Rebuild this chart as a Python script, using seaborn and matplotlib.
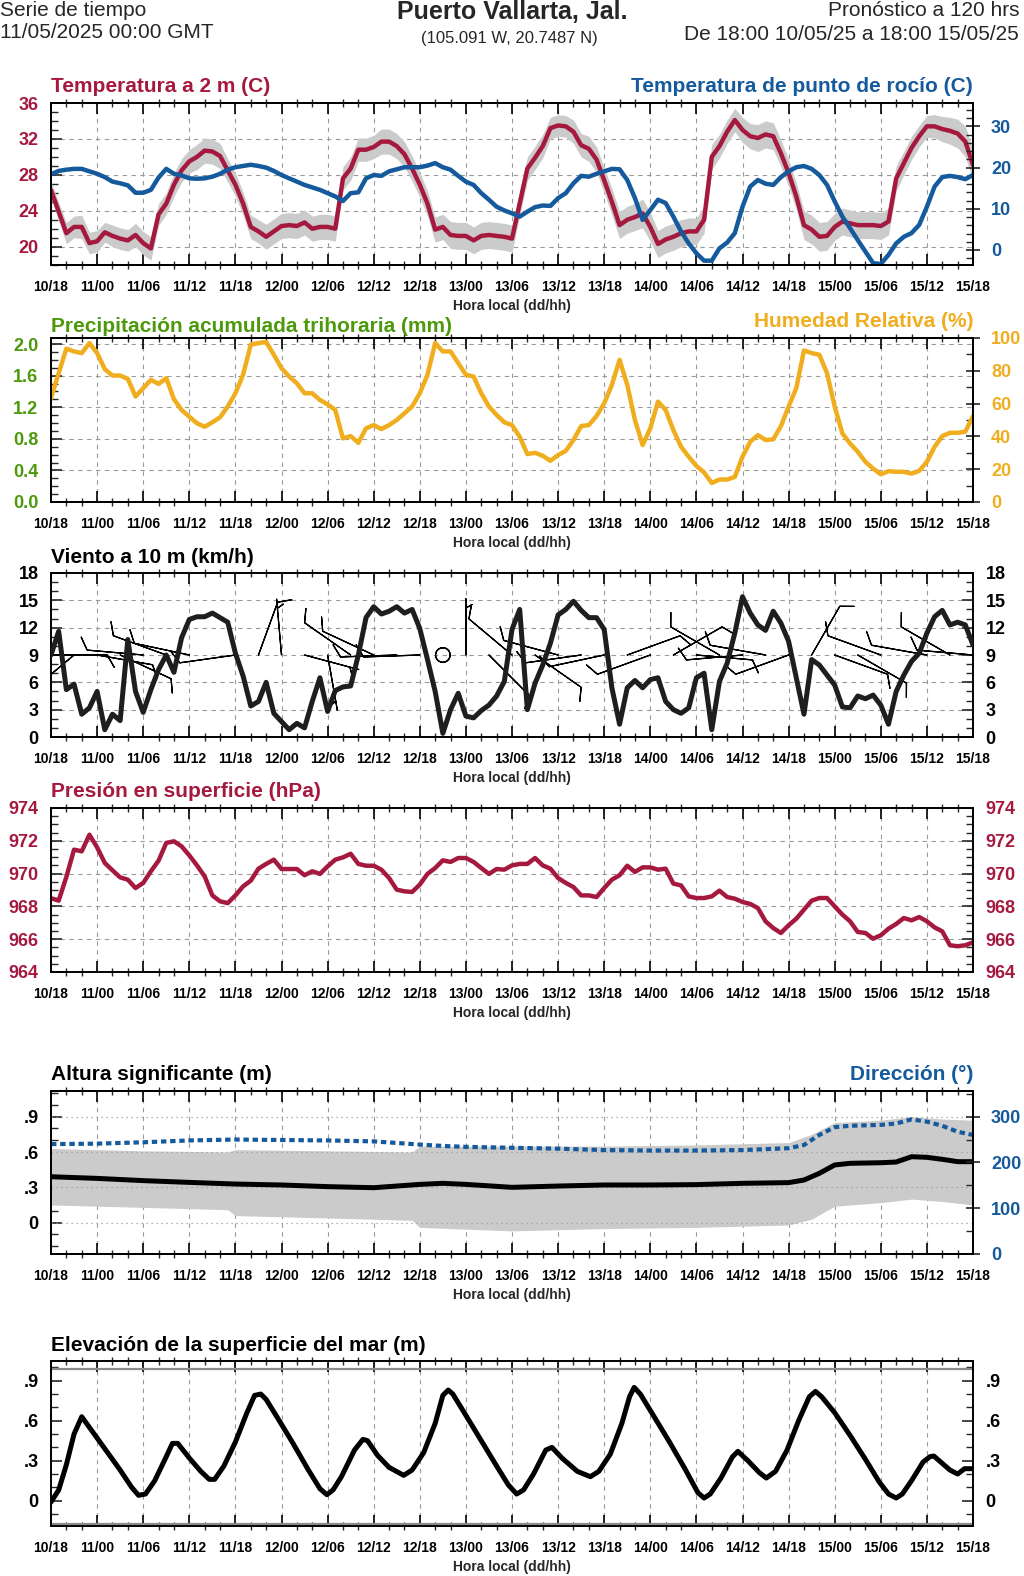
import numpy as np
import pandas as pd
import matplotlib
matplotlib.use('Agg')
import matplotlib.pyplot as plt
import seaborn as sns
from matplotlib.ticker import MultipleLocator

# ---------------- data (hours since 10/05 18:00 local) ----------------
hours = list(range(121))
xtick_labels = ['10/18', '11/00', '11/06', '11/12', '11/18', '12/00', '12/06',
                '12/12', '12/18', '13/00', '13/06', '13/12', '13/18', '14/00',
                '14/06', '14/12', '14/18', '15/00', '15/06', '15/12', '15/18']

# temperatura a 2 m (C)
temp = [26.3, 23.9, 21.5, 22.2, 22.2, 20.4, 20.6, 21.6, 21.2, 20.9,
        20.7, 21.3, 20.4, 19.8, 23.6, 24.8, 26.9, 28.5, 29.5, 30.0,
        30.7, 30.6, 30.1, 28.5, 26.9, 24.8, 22.2, 21.7, 21.1, 21.7,
        22.3, 22.4, 22.3, 22.7, 22.0, 22.2, 22.2, 22.0, 27.6, 28.7,
        30.8, 30.8, 31.1, 31.7, 31.7, 31.2, 30.3, 28.7, 26.9, 24.8,
        21.9, 22.2, 21.3, 21.2, 21.2, 20.7, 21.2, 21.3, 21.2, 21.1,
        20.9, 24.8, 28.7, 29.9, 31.2, 33.2, 33.5, 33.4, 32.8, 31.3,
        30.9, 29.7, 27.4, 25.0, 22.4, 23.0, 23.3, 23.7, 22.2, 20.3,
        20.8, 21.1, 21.5, 21.7, 21.7, 23.0, 30.0, 31.2, 32.8, 34.1,
        33.0, 32.3, 32.1, 32.5, 32.3, 30.4, 28.2, 25.6, 22.4, 21.9,
        21.1, 21.2, 22.2, 22.8, 22.6, 22.4, 22.4, 22.4, 22.3, 22.8,
        27.6, 29.3, 31.0, 32.3, 33.4, 33.4, 33.1, 32.9, 32.6, 31.7,
        29.1]
# half width of the ensemble band around temp
temp_spread = [0.9, 1.0,
               1.2, 1.2, 1.3, 1.2, 1.2, 1.1, 1.2, 1.2, 1.2, 1.3, 1.3, 1.3,
               1.2, 1.2, 1.3, 1.3, 1.3, 1.4, 1.4, 1.4, 1.4, 1.3, 1.3,
               1.3, 1.3, 1.3, 1.4, 1.4, 1.4, 1.4, 1.4, 1.4, 1.4, 1.4, 1.4, 1.4,
               1.3, 1.3, 1.3, 1.3, 1.3, 1.4, 1.4, 1.4, 1.4, 1.4, 1.4, 1.4,
               1.4, 1.4, 1.5, 1.5, 1.5, 1.5, 1.5, 1.5, 1.5, 1.5, 1.5,
               1.4, 1.3, 1.3, 1.3, 1.2, 1.2, 1.2, 1.3, 1.3, 1.4, 1.4, 1.4, 1.5,
               1.5, 1.5, 1.5, 1.6, 1.6, 1.5, 1.5, 1.5, 1.5, 1.5, 1.5, 1.5,
               1.4, 1.3, 1.3, 1.3, 1.4, 1.4, 1.5, 1.5, 1.5, 1.5, 1.5, 1.5,
               1.6, 1.6, 1.6, 1.6, 1.5, 1.5, 1.5, 1.5, 1.5, 1.5, 1.5, 1.5,
               1.4, 1.3, 1.3, 1.2, 1.2, 1.3, 1.4, 1.5, 1.6, 1.7, 1.8]

# temperatura de punto de rocio (C)
dew = [18.4, 19.2, 19.5, 19.7, 19.7, 19.1, 18.5, 17.7, 16.6, 16.2,
       15.7, 13.9, 13.9, 14.6, 17.6, 19.7, 18.5, 18.1, 17.4, 17.3,
       17.4, 17.8, 18.5, 19.5, 20.1, 20.4, 20.7, 20.4, 20.0, 19.2,
       18.2, 17.4, 16.6, 15.8, 15.2, 14.6, 13.8, 13.0, 11.9, 13.8,
       14.0, 17.4, 18.2, 18.0, 19.1, 19.6, 20.1, 20.1, 20.1, 20.5,
       21.1, 20.1, 19.5, 18.0, 16.6, 15.8, 13.8, 12.2, 10.5, 9.6,
       8.9, 8.1, 9.3, 10.4, 10.8, 10.7, 12.6, 13.8, 16.2, 18.0,
       17.8, 18.5, 19.1, 19.7, 19.6, 17.0, 12.6, 7.3, 9.7, 12.2,
       11.4, 8.1, 4.5, 1.6, -0.8, -2.6, -2.6, 0.4, 1.8, 4.1,
       10.5, 15.4, 17.0, 16.1, 15.8, 17.7, 19.1, 20.1, 20.4, 19.7,
       18.2, 15.8, 11.8, 8.1, 5.3, 2.4, -0.4, -3.2, -3.4, -1.2,
       1.6, 3.2, 4.1, 6.1, 10.5, 15.4, 17.7, 18.0, 17.7, 17.2,
       18.2]

# humedad relativa (%)
hum = [63.3, 78.6, 93.5, 91.8, 90.8, 96.9, 90.8, 81.0, 77.1, 77.1,
       75.1, 64.3, 69.4, 74.5, 72.0, 75.5, 62.7, 56.1, 52.0, 48.0,
       45.9, 48.6, 51.6, 58.2, 66.3, 77.6, 95.9, 96.9, 97.6, 89.8,
       81.6, 76.5, 72.4, 66.3, 66.3, 62.2, 59.6, 56.1, 38.8, 40.2,
       36.1, 44.9, 46.9, 44.5, 46.9, 50.0, 54.1, 58.2, 66.3, 77.6,
       96.9, 91.8, 91.8, 84.7, 77.6, 76.5, 66.3, 58.2, 53.1, 48.6,
       46.9, 39.8, 29.2, 30.0, 28.2, 25.1, 28.6, 31.2, 37.8, 46.3,
       46.9, 52.4, 60.2, 71.4, 86.7, 71.4, 50.0, 34.7, 44.9, 61.2,
       56.1, 43.9, 33.7, 27.6, 22.0, 18.0, 11.6, 13.7, 13.7, 15.3,
       27.6, 36.7, 40.8, 37.8, 38.2, 46.3, 58.2, 69.4, 92.4, 90.8,
       89.8, 78.6, 58.2, 41.8, 35.7, 30.6, 24.5, 20.4, 16.9, 18.8,
       18.4, 18.4, 17.3, 19.0, 24.5, 33.7, 40.2, 42.2, 42.2, 42.9,
       52.4]

# viento a 10 m (km/h)
wind = [9.0, 11.6, 5.2, 5.8, 2.5, 3.2, 5.0, 0.8, 2.5, 1.8,
        10.7, 5.0, 2.7, 5.2, 7.4, 9.0, 7.1, 10.9, 12.9, 13.2,
        13.2, 13.6, 13.1, 12.6, 9.2, 6.7, 3.4, 3.9, 6.0, 2.6,
        1.7, 0.8, 1.5, 1.0, 3.9, 6.5, 2.8, 5.1, 5.5, 5.6,
        9.0, 13.1, 14.3, 13.5, 13.8, 14.3, 13.6, 14.0, 11.9, 8.5,
        5.0, 0.4, 3.0, 4.8, 2.3, 2.1, 2.9, 3.5, 4.5, 6.1,
        11.8, 14.0, 3.0, 5.9, 7.9, 10.3, 13.4, 14.0, 14.9, 13.9,
        13.1, 13.1, 11.8, 5.4, 1.4, 5.4, 6.2, 5.4, 6.3, 6.5,
        3.9, 3.0, 2.6, 3.2, 6.5, 7.0, 0.8, 6.1, 8.1, 11.4,
        15.4, 13.6, 12.3, 11.7, 13.8, 12.5, 10.5, 6.5, 2.5, 8.5,
        7.9, 6.8, 5.7, 3.3, 3.2, 4.5, 4.2, 4.6, 3.5, 1.4,
        5.0, 6.8, 8.3, 9.2, 11.4, 13.2, 13.9, 12.3, 12.6, 12.3,
        10.1]

# barbas de viento cada 3 h (direccion de procedencia, rapidez)
barb_hours = list(range(0, 121, 3))
barb_dir = [90, 230, 100, 115, 275, 290, 282, np.nan, 262, 20,
            355, 105, 170, 305, 295, 268, 268, 0, 0, 135,
            310, 125, 285, 262, 258, 70, 250, 60, 95, 300,
            265, 280, 250, 30, 110, 120, 290, np.nan, 280, 300,
            275]
barb_spd = [8, 7, 9, 8, 9, 8, 11, np.nan, 9, 8,
            6, 7, 6, 11, 9, 10, 9, 0, 6, 8,
            10, 9, 9, 8, 8, 9, 8, 10, 8, 10,
            9, 9, 8, 12, 9, 10, 9, np.nan, 10, 9,
            9]

# presion en superficie (hPa)
pres = [968.50, 968.35, 969.80, 971.46, 971.36, 972.37, 971.60, 970.65, 970.20, 969.77,
        969.63, 969.12, 969.43, 970.14, 970.79, 971.87, 971.97, 971.66, 971.11, 970.50,
        969.83, 968.67, 968.31, 968.20, 968.67, 969.22, 969.57, 970.30, 970.59, 970.85,
        970.28, 970.28, 970.28, 969.90, 970.14, 969.98, 970.44, 970.85, 970.99, 971.21,
        970.59, 970.48, 970.48, 970.24, 969.73, 969.02, 968.92, 968.88, 969.33, 969.98,
        970.34, 970.81, 970.71, 970.95, 970.95, 970.71, 970.34, 969.98, 970.28, 970.24,
        970.50, 970.59, 970.59, 970.95, 970.50, 970.30, 969.73, 969.43, 969.18, 968.67,
        968.67, 968.57, 969.12, 969.63, 969.90, 970.48, 970.10, 970.38, 970.38, 970.24,
        970.30, 969.39, 969.28, 968.61, 968.51, 968.51, 968.61, 968.96, 968.57, 968.47,
        968.27, 968.15, 967.90, 967.09, 966.68, 966.38, 966.85, 967.25, 967.80, 968.35,
        968.51, 968.51, 968.00, 967.50, 967.09, 966.44, 966.38, 966.03, 966.24, 966.64,
        966.93, 967.29, 967.15, 967.35, 967.09, 966.72, 966.48, 965.63, 965.57, 965.63,
        965.81]

# oleaje: altura significante (m) y direccion (grados)
wave_hours = [0, 6, 12, 18, 24, 30, 36, 42, 48, 51, 54, 60, 66, 72, 78,
              84, 90, 96, 98, 100, 102, 104, 108, 110, 112, 114, 116, 118, 120]
wave_hgt = [0.390, 0.376, 0.357, 0.342, 0.328, 0.320, 0.306, 0.297, 0.325, 0.334,
            0.325, 0.300, 0.311, 0.320, 0.320, 0.323, 0.334, 0.340, 0.362, 0.419,
            0.490, 0.504, 0.509, 0.515, 0.560, 0.555, 0.538, 0.518, 0.518]
wave_dir = [240, 241, 244, 248, 250, 249, 248, 246, 239, 236,
            234, 232, 230, 227, 226, 226, 227, 231, 238, 260,
            277, 280, 282, 285, 294, 289, 280, 267, 260]
band_hours = [0, 12, 23, 24, 36, 47, 48, 60, 72, 84, 96, 99, 102, 108, 112, 116, 120]
band_lo = [0.15, 0.13, 0.11, 0.06, 0.04, 0.02, -0.04, -0.07, -0.05, -0.04,
           -0.02, 0.03, 0.14, 0.17, 0.20, 0.18, 0.15]
band_hi = [0.63, 0.61, 0.60, 0.62, 0.61, 0.60, 0.65, 0.65, 0.65, 0.66,
           0.68, 0.75, 0.85, 0.87, 0.90, 0.88, 0.87]

# elevacion de la superficie del mar (m)
sea_hours = [0, 1, 2, 3, 4, 5, 7, 9, 10.5, 11.4,
             12.3, 13.5, 15, 15.8, 16.5, 18, 19.5, 20.6, 21.3, 22.5,
             24, 25.5, 26.5, 27.3, 28, 29.5, 31.5, 33.5, 35, 35.9,
             36.7, 37.8, 39.5, 40.6, 41.2, 42.5, 44, 45.9, 47, 48.5,
             50, 51, 51.7, 52.3, 54, 56, 58, 59.5, 60.6, 61.5,
             62.8, 64.4, 65.2, 66.5, 68.5, 70.2, 71.3, 72.8, 74.3, 75.3,
             75.9, 76.7, 78.5, 80.5, 82.5, 84.2, 85, 85.8, 87.2, 88.7,
             89.4, 90.7, 92.2, 93.1, 94.3, 95.8, 97.3, 98.7, 99.5, 100.3,
             102, 104, 106, 107.8, 109, 110, 110.8, 112, 113.5, 114.4,
             114.9, 115.6, 117, 118, 118.9, 120]
sea_lvl = [-0.01, 0.08, 0.27, 0.50, 0.63, 0.55, 0.39, 0.23, 0.10, 0.04,
           0.05, 0.15, 0.33, 0.43, 0.43, 0.32, 0.22, 0.16, 0.16, 0.26,
           0.44, 0.66, 0.79, 0.80, 0.76, 0.62, 0.43, 0.23, 0.09, 0.045,
           0.08, 0.18, 0.38, 0.46, 0.45, 0.34, 0.25, 0.19, 0.23, 0.36,
           0.58, 0.79, 0.83, 0.80, 0.64, 0.45, 0.26, 0.12, 0.05, 0.08,
           0.20, 0.38, 0.40, 0.32, 0.22, 0.18, 0.22, 0.35, 0.58, 0.78,
           0.85, 0.80, 0.63, 0.44, 0.24, 0.06, 0.02, 0.05, 0.17, 0.33,
           0.37, 0.30, 0.21, 0.17, 0.22, 0.38, 0.60, 0.78, 0.82, 0.78,
           0.66, 0.49, 0.31, 0.14, 0.05, 0.02, 0.05, 0.15, 0.29, 0.33,
           0.335, 0.30, 0.23, 0.20, 0.24, 0.24]

# ---------------- style ----------------
RED = '#A6193F'
BLUE = '#155A9C'
ORANGE = '#F0AD1E'
GREEN = '#4C9A0C'
BAND = '#CBCBCB'
GRID = '#9A9A9A'

sns.set_theme(style='ticks')
plt.rcParams['font.family'] = ['Liberation Sans', 'DejaVu Sans']
plt.rcParams['axes.edgecolor'] = 'black'

FW, FH = 1024, 1576
fig = plt.figure(figsize=(FW / 100, FH / 100), dpi=100)
X0, X1 = 51, 973


def make_axes(top, bottom):
    ax = fig.add_axes([X0 / FW, 1 - bottom / FH, (X1 - X0) / FW, (bottom - top) / FH])
    ax.set_xlim(0, 120)
    ax.set_xticks(list(range(0, 121, 6)), labels=xtick_labels, fontsize=10, fontweight='bold')
    ax.xaxis.set_minor_locator(MultipleLocator(2))
    ax.tick_params(axis='x', which='major', direction='in', length=8, width=1.2,
                   top=True, bottom=True, pad=11, colors='black')
    ax.tick_params(axis='x', which='minor', direction='inout', length=6, width=1.0,
                   top=True, bottom=True)
    ax.tick_params(axis='y', which='major', direction='in', length=8, width=1.2, pad=9, left=True)
    ax.tick_params(axis='y', which='minor', direction='in', length=5, width=1.0, left=True)
    ax.grid(axis='x', which='major', color=GRID, linestyle=(0, (4, 4)), linewidth=0.8)
    for s in ax.spines.values():
        s.set_visible(True)
        s.set_color('black')
        s.set_linewidth(1.4)
    ax.annotate('Hora local (dd/hh)', xy=(0.5, 0), xycoords='axes fraction',
                xytext=(0, -41), textcoords='offset pixels', ha='center', va='center',
                fontsize=10, fontweight='bold')
    return ax


def right_axis(ax):
    ax2 = ax.twinx()
    ax2.tick_params(axis='y', which='major', direction='inout', length=10, width=1.2, pad=8, right=True)
    ax2.tick_params(axis='y', which='minor', direction='in', length=5, width=1.0, right=True)
    for s in ax2.spines.values():
        s.set_color('black')
        s.set_linewidth(1.4)
    return ax2


def title(ax, text, color, side='left', dy=11):
    if side == 'left':
        ax.annotate(text, xy=(0, 1), xycoords='axes fraction', xytext=(0, dy),
                    textcoords='offset pixels', ha='left', va='baseline',
                    fontsize=15, fontweight='bold', color=color)
    else:
        ax.annotate(text, xy=(1, 1), xycoords='axes fraction', xytext=(0, dy),
                    textcoords='offset pixels', ha='right', va='baseline',
                    fontsize=15, fontweight='bold', color=color)


def hgrid(ax, ticks, ls=(0, (4, 4))):
    for t in ticks:
        ax.axhline(t, color=GRID, linestyle=ls, linewidth=0.8, zorder=0.5)


# ---------------- header ----------------
fig.text(0 / FW, 1 - 11 / FH, 'Serie de tiempo', fontsize=15, ha='left', va='center')
fig.text(0 / FW, 1 - 33 / FH, '11/05/2025 00:00 GMT', fontsize=15, ha='left', va='center')
fig.text(512 / FW, 1 - 12 / FH, 'Puerto Vallarta, Jal.', fontsize=18, fontweight='bold',
         ha='center', va='center')
fig.text(509 / FW, 1 - 38 / FH, '(105.091 W, 20.7487 N)', fontsize=12, ha='center', va='center')
fig.text(1019 / FW, 1 - 11 / FH, 'Pronóstico a 120 hrs', fontsize=15, ha='right', va='center')
fig.text(1019 / FW, 1 - 34 / FH, 'De 18:00 10/05/25 a 18:00 15/05/25', fontsize=15,
         ha='right', va='center')

# ---------------- 1. temperatura / punto de rocio ----------------
ax = make_axes(103, 265)
t = np.array(temp)
sp = np.array(temp_spread)
ax.fill_between(hours, t - sp, t + sp, color=BAND, linewidth=0, zorder=1)
sns.lineplot(x=hours, y=temp, ax=ax, color=RED, linewidth=3.2, zorder=3)
ax.set_ylim(17.96, 36)
temp_ticks = [20, 24, 28, 32, 36]
ax.set_yticks(temp_ticks, labels=[str(v) for v in temp_ticks], fontsize=13,
              fontweight='bold', color=RED)
ax.yaxis.set_minor_locator(MultipleLocator(1))
hgrid(ax, temp_ticks[:-1])
title(ax, 'Temperatura a 2 m (C)', RED)
ax2 = right_axis(ax)
sns.lineplot(x=hours, y=dew, ax=ax2, color=BLUE, linewidth=3.2)
ax2.set_ylim(-3.65, 35.7)
dew_ticks = [0, 10, 20, 30]
ax2.set_yticks(dew_ticks, labels=[str(v) for v in dew_ticks], fontsize=13,
               fontweight='bold', color=BLUE)
ax2.yaxis.set_minor_locator(MultipleLocator(2))
title(ax2, 'Temperatura de punto de rocío (C)', BLUE, side='right')

# ---------------- 2. precipitacion / humedad ----------------
ax = make_axes(338, 502)
ax.set_ylim(0, 2.076)
pcp_ticks = [0.0, 0.4, 0.8, 1.2, 1.6, 2.0]
ax.set_yticks(pcp_ticks, labels=[f'{v:.1f}' for v in pcp_ticks], fontsize=13,
              fontweight='bold', color=GREEN)
ax.yaxis.set_minor_locator(MultipleLocator(0.1))
hgrid(ax, pcp_ticks[1:])
title(ax, 'Precipitación acumulada trihoraria (mm)', GREEN, dy=6)
ax2 = right_axis(ax)
sns.lineplot(x=hours, y=hum, ax=ax2, color=ORANGE, linewidth=3.2)
ax2.set_ylim(0, 100)
hum_ticks = [0, 20, 40, 60, 80, 100]
ax2.set_yticks(hum_ticks, labels=[str(v) for v in hum_ticks], fontsize=13,
               fontweight='bold', color=ORANGE)
ax2.yaxis.set_minor_locator(MultipleLocator(10))
title(ax2, 'Humedad Relativa (%)', ORANGE, side='right')

# ---------------- 3. viento ----------------
ax = make_axes(573, 737)
bd = np.array(barb_dir, dtype=float)
bs = np.array(barb_spd, dtype=float)
ok = ~np.isnan(bd)
bx = np.array(barb_hours)[ok]
u = -bs[ok] * np.sin(np.radians(bd[ok]))
v = -bs[ok] * np.cos(np.radians(bd[ok]))
ax.barbs(bx, np.full(bx.shape, 9.0), u, v, length=9, linewidth=0.9, color='black',
         sizes=dict(spacing=0.11, height=0.22, width=0.25, emptybarb=0.13), zorder=2)
sns.lineplot(x=hours, y=wind, ax=ax, color='#1E1E1E', linewidth=3.6, zorder=3)
ax.set_ylim(0, 18)
wind_ticks = [0, 3, 6, 9, 12, 15, 18]
ax.set_yticks(wind_ticks, labels=[str(v) for v in wind_ticks], fontsize=13,
              fontweight='bold', color='black')
ax.yaxis.set_minor_locator(MultipleLocator(1))
ax.tick_params(axis='y', which='both', right=True, labelright=True)
hgrid(ax, wind_ticks[1:-1])
title(ax, 'Viento a 10 m (km/h)', 'black', dy=10)

# ---------------- 4. presion ----------------
ax = make_axes(808, 972)
sns.lineplot(x=hours, y=pres, ax=ax, color=RED, linewidth=3.2)
ax.set_ylim(964, 974)
pres_ticks = [964, 966, 968, 970, 972, 974]
ax.set_yticks(pres_ticks, labels=[str(v) for v in pres_ticks], fontsize=13,
              fontweight='bold', color=RED)
ax.yaxis.set_minor_locator(MultipleLocator(0.5))
ax.tick_params(axis='y', which='both', right=True, labelright=True)
hgrid(ax, pres_ticks[1:-1])
title(ax, 'Presión en superficie (hPa)', RED)

# ---------------- 5. oleaje ----------------
ax = make_axes(1091, 1254)
ax.fill_between(band_hours, band_lo, band_hi, color=BAND, linewidth=0, zorder=1)
sns.lineplot(x=wave_hours, y=wave_hgt, ax=ax, color='black', linewidth=3.6, zorder=3)
ax.set_ylim(-0.266, 1.118)
hs_ticks = [0, 0.3, 0.6, 0.9]
ax.set_yticks(hs_ticks, labels=['0', '.3', '.6', '.9'], fontsize=13,
              fontweight='bold', color='black')
ax.yaxis.set_minor_locator(MultipleLocator(0.1))
for tk in hs_ticks:
    ax.axhline(tk, color=GRID, linestyle=(0, (1, 3)), linewidth=0.9, zorder=1.5)
title(ax, 'Altura significante (m)', 'black')
ax2 = right_axis(ax)
sns.lineplot(x=wave_hours, y=wave_dir, ax=ax2, color=BLUE, linewidth=3.0,
             linestyle=(0, (1.3, 0.9)))
ax2.set_ylim(0, 356)
dir_ticks = [0, 100, 200, 300]
ax2.set_yticks(dir_ticks, labels=[str(v) for v in dir_ticks], fontsize=13,
               fontweight='bold', color=BLUE)
ax2.yaxis.set_minor_locator(MultipleLocator(50))
title(ax2, 'Dirección (°)', BLUE, side='right')

# ---------------- 6. nivel del mar ----------------
ax = make_axes(1361, 1526)
ax.axhline(0.985, color='#8C8C8C', linewidth=1.6, zorder=1)
ax.axhline(-0.178, color='#8C8C8C', linewidth=1.6, zorder=1)
sns.lineplot(x=sea_hours, y=sea_lvl, ax=ax, color='black', linewidth=3.6, zorder=3)
ax.set_ylim(-0.19, 1.048)
sea_ticks = [0, 0.3, 0.6, 0.9]
ax.set_yticks(sea_ticks, labels=['0', '.3', '.6', '.9'], fontsize=13,
              fontweight='bold', color='black')
ax.yaxis.set_minor_locator(MultipleLocator(0.1))
ax.tick_params(axis='y', which='both', right=True, labelright=True)
title(ax, 'Elevación de la superficie del mar (m)', 'black', dy=10)

fig.savefig('out.png', dpi=100)
